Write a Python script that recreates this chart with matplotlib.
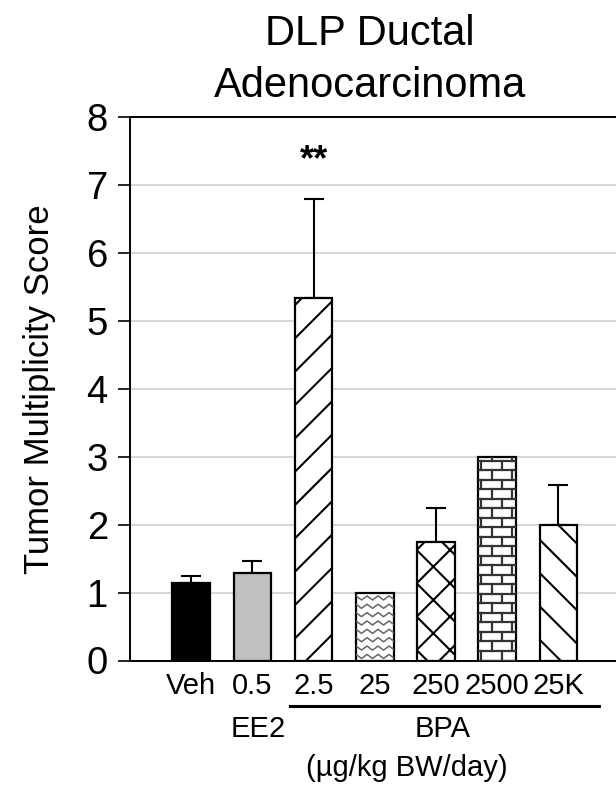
import numpy as np
import matplotlib
matplotlib.use('Agg')
import matplotlib.pyplot as plt
import matplotlib.transforms as mtransforms

# data
categories = ['Veh', '0.5', '2.5', '25', '250', '2500', '25K']
means = [1.14, 1.29, 5.33, 1.0, 1.75, 3.0, 2.0]
err_up = [0.11, 0.18, 1.47, 0.0, 0.49, 0.0, 0.58]
colors = ['black', '#c0c0c0', 'white', 'white', 'white', 'white', 'white']
hatches = ['', '', '/', '', 'x', '', '\\']
group_labels = ['EE2', 'BPA']
group_pos = [1.09, 4.1]

plt.rcParams['font.family'] = ['Liberation Sans', 'DejaVu Sans']
plt.rcParams['hatch.linewidth'] = 1.5

fig = plt.figure(figsize=(6.16, 7.86), dpi=100)
ax = fig.add_axes([130 / 616, 1 - 660.5 / 786, 1 - 130 / 616, (660.5 - 117) / 786])

x = np.arange(len(categories))
bars = ax.bar(x, means, width=0.615, color=colors, edgecolor='black',
              linewidth=1.6, hatch=hatches, zorder=3)

# error bars (upper only)
idx = [i for i, e in enumerate(err_up) if e > 0]
ax.errorbar(x[idx], np.array(means)[idx],
            yerr=[np.zeros(len(idx)), np.array(err_up)[idx]],
            fmt='none', ecolor='black', elinewidth=1.5, capsize=7.5,
            capthick=1.5, zorder=2)

# zigzag fill for the 25 bar
b = bars[3]
x0, w, h = b.get_x(), b.get_width(), b.get_height()
step = 0.09
xs = np.arange(x0 - step, x0 + w + step, step)
for row in np.arange(0.06, h, 0.123):
    ys = row + np.where(np.arange(len(xs)) % 2 == 0, -0.03, 0.03)
    ln, = ax.plot(xs, ys, color='#666666', lw=1.1, zorder=3.5)
    ln.set_clip_path(b)

# brick fill for the 2500 bar
b = bars[5]
x0, w, h = b.get_x(), b.get_width(), b.get_height()
rh = 0.14
bw = 0.33
for k, row in enumerate(np.arange(0, h, rh)):
    ln, = ax.plot([x0, x0 + w], [row, row], color='#333333', lw=1.6, zorder=3.5)
    ln.set_clip_path(b)
    off = 0 if k % 2 == 0 else bw / 2
    for vx in np.arange(x0 + off + 0.05, x0 + w, bw):
        ln, = ax.plot([vx, vx], [row, row + rh], color='#333333', lw=1.6, zorder=3.5)
        ln.set_clip_path(b)

ax.set_xlim(-1.0, 6.94)
ax.set_ylim(0, 8)
ax.set_yticks(range(0, 9))
ax.yaxis.grid(True, color='#d0d0d0', linewidth=1.2, zorder=0)
ax.set_axisbelow(True)
ax.set_xticks(x, categories)
ax.tick_params(axis='x', length=0, labelsize=21, pad=8)
ax.tick_params(axis='y', direction='out', length=9, width=1.2, labelsize=27.5, pad=7)
for s in ['left', 'bottom', 'top']:
    ax.spines[s].set_linewidth(1.4)
ax.spines['right'].set_visible(False)

ax.set_ylabel('Tumor Multiplicity Score', fontsize=25, labelpad=22)

ax.text(2, 7.35, '**', ha='center', va='center', fontsize=26, fontweight='bold')

trans = mtransforms.blended_transform_factory(ax.transData, ax.transAxes)
ax.plot([1.61, 6.66], [-0.084, -0.084], color='black', lw=2.2,
        transform=trans, clip_on=False)
for lab, pos in zip(group_labels, group_pos):
    ax.text(pos, -0.126, lab, ha='center', va='center', fontsize=21, transform=trans)
ax.text(3.52, -0.198, '(µg/kg BW/day)', ha='center', va='center', fontsize=21,
        transform=trans)

fig.text(370 / 616, 1 - 45 / 786, 'DLP Ductal', ha='center', va='baseline', fontsize=30)
fig.text(370 / 616, 1 - 97 / 786, 'Adenocarcinoma', ha='center', va='baseline', fontsize=30)

fig.savefig('out.png', dpi=100)
